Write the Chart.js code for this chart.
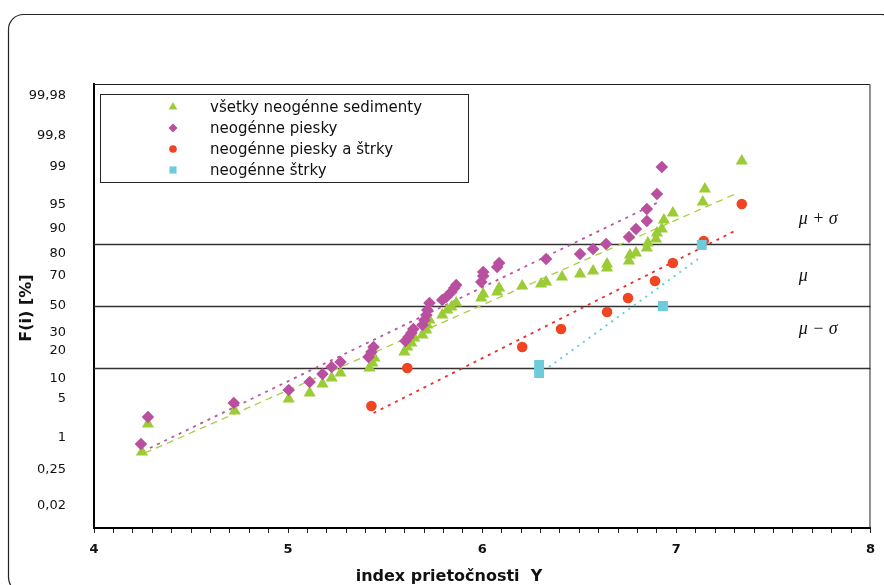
<!DOCTYPE html>
<html>
<head>
<meta charset="utf-8">
<script src="https://cdn.jsdelivr.net/npm/chart.js@4.4.1/dist/chart.umd.min.js"></script>
<style>
  html, body { margin: 0; padding: 0; background: #fff; }
</style>
</head>
<body>
<canvas id="graf" width="884" height="585"></canvas>
<script>
// index prietočnosti Y (x) a kvantil F(i) v jednotkách normálneho rozdelenia (y)
const allX = [4.247, 4.278, 4.725, 5.003, 5.111, 5.177, 5.224, 5.270, 5.419, 5.434, 5.445, 5.599,
  5.614, 5.635, 5.650, 5.692, 5.712, 5.717, 5.728, 5.794, 5.820, 5.841, 5.866, 5.995, 6.005, 6.077,
  6.087, 6.206, 6.303, 6.329, 6.411, 6.504, 6.571, 6.643, 6.643, 6.756, 6.761, 6.792, 6.848, 6.853,
  6.895, 6.900, 6.925, 6.936, 6.982, 7.136, 7.147, 7.337];
const allZ = [-2.355, -1.903, -1.694, -1.500, -1.403, -1.258, -1.161, -1.081, -1.000, -0.919, -0.839, -0.742,
  -0.661, -0.597, -0.516, -0.468, -0.387, -0.306, -0.226, -0.145, -0.065, -0.016, 0.048, 0.129, 0.194, 0.226,
  0.290, 0.323, 0.355, 0.387, 0.468, 0.516, 0.565, 0.613, 0.677, 0.726, 0.823, 0.855, 0.935, 1.016,
  1.081, 1.177, 1.242, 1.387, 1.500, 1.677, 1.887, 2.339];

const sandX = [4.242, 4.278, 4.720, 5.003, 5.111, 5.177, 5.224, 5.270, 5.414, 5.429, 5.440, 5.604,
  5.620, 5.635, 5.645, 5.692, 5.702, 5.712, 5.717, 5.728, 5.794, 5.815, 5.841, 5.856, 5.866, 5.995,
  6.005, 6.005, 6.077, 6.087, 6.329, 6.504, 6.571, 6.638, 6.756, 6.792, 6.848, 6.848, 6.900, 6.925];
const sandZ = [-2.226, -1.790, -1.565, -1.355, -1.226, -1.097, -0.984, -0.903, -0.823, -0.742, -0.661, -0.565,
  -0.500, -0.435, -0.371, -0.306, -0.226, -0.145, -0.065, 0.048, 0.097, 0.145, 0.226, 0.290, 0.339, 0.387,
  0.484, 0.548, 0.629, 0.694, 0.758, 0.839, 0.919, 1.000, 1.113, 1.242, 1.371, 1.565, 1.806, 2.242];

const sandGravelX = [5.429, 5.614, 6.206, 6.406, 6.643, 6.751, 6.890, 6.982, 7.141, 7.337];
const sandGravelZ = [-1.613, -1.000, -0.661, -0.371, -0.097, 0.129, 0.403, 0.694, 1.048, 1.645];

const gravelX = [6.293, 6.293, 6.931, 7.131];
const gravelZ = [-0.952, -1.081, 0.000, 0.984];

// trendové čiary (začiatok, koniec)
const allTrendX = [4.262, 7.316];
const allTrendZ = [-2.371, 1.823];
const sandTrendX = [4.288, 6.910];
const sandTrendZ = [-2.290, 1.677];
const sandGravelTrendX = [5.440, 7.301];
const sandGravelTrendZ = [-1.726, 1.210];
const gravelTrendX = [6.344, 7.126];
const gravelTrendZ = [-0.984, 0.790];

// popisy osi y (percentá) a ich poloha
const tickLabels = ['0,02', '0,25', '1', '5', '10', '20', '30', '50', '70', '80', '90', '95', '99', '99,8', '99,98'];
const tickZ = [-3.226, -2.645, -2.129, -1.500, -1.177, -0.726, -0.435, 0, 0.484, 0.839, 1.242, 1.629, 2.242, 2.742, 3.387];

const sigmaLevels = [1, 0, -1];
const sigmaLabels = ['\u03bc + \u03c3', '\u03bc', '\u03bc \u2212 \u03c3'];
const sigmaLabelZ = [1.40, 0.48, -0.37];

const seriesNames = ['všetky neogénne sedimenty', 'neogénne piesky', 'neogénne piesky a štrky', 'neogénne štrky'];

const toPoints = (xs, ys) => xs.map((x, i) => ({ x, y: ys[i] }));

function pointSet(label, xs, ys, color, style, radius, order) {
  return {
    label, data: toPoints(xs, ys), showLine: false,
    pointStyle: style, pointRadius: radius, pointBackgroundColor: color,
    pointBorderWidth: 0, backgroundColor: color, borderColor: color, order
  };
}

function trendSet(xs, ys, color, dash, width) {
  return {
    label: '', data: toPoints(xs, ys), showLine: true, pointRadius: 0,
    borderColor: color, borderWidth: width, borderDash: dash, order: 5
  };
}

const datasets = [
  pointSet(seriesNames[0], allX, allZ, '#9bcb35', 'triangle', 7, 4),
  pointSet(seriesNames[1], sandX, sandZ, '#b9509f', 'rectRot', 6.3, 3),
  pointSet(seriesNames[2], sandGravelX, sandGravelZ, '#ef4523', 'circle', 5.3, 2),
  pointSet(seriesNames[3], gravelX, gravelZ, '#6cccdc', 'rect', 7, 1),
  trendSet(allTrendX, allTrendZ, '#a6cf3f', [7, 5], 1.3),
  trendSet(sandTrendX, sandTrendZ, '#bb55a3', [3, 5], 1.8),
  trendSet(sandGravelTrendX, sandGravelTrendZ, '#ee2a2a', [3, 5], 1.8),
  trendSet(gravelTrendX, gravelTrendZ, '#66ccdd', [2, 5], 2)
];

// rámček, čiary mu/sigma, legenda a popisy
const decor = {
  id: 'decor',
  beforeDraw(chart) {
    const ctx = chart.ctx;
    ctx.save();
    ctx.fillStyle = '#fff';
    ctx.fillRect(0, 0, chart.width, chart.height);
    ctx.strokeStyle = '#222';
    ctx.lineWidth = 1.2;
    ctx.beginPath();
    ctx.roundRect(8.5, 14.5, 888, 578, 15);
    ctx.stroke();
    ctx.restore();
  },
  beforeDatasetsDraw(chart) {
    const { ctx, chartArea: a, scales: { y } } = chart;
    ctx.save();
    ctx.strokeStyle = '#333';
    ctx.lineWidth = 1.4;
    sigmaLevels.forEach(v => {
      const py = Math.round(y.getPixelForValue(v)) + 0.5;
      ctx.beginPath();
      ctx.moveTo(a.left, py);
      ctx.lineTo(a.right, py);
      ctx.stroke();
    });
    ctx.strokeStyle = '#222';
    ctx.lineWidth = 1;
    ctx.beginPath();
    ctx.moveTo(a.left, a.top + 0.5);
    ctx.lineTo(a.right - 0.5, a.top + 0.5);
    ctx.lineTo(a.right - 0.5, a.bottom);
    ctx.stroke();
    ctx.restore();
  },
  afterDraw(chart) {
    const { ctx, scales: { x, y } } = chart;
    ctx.save();

    // legenda
    ctx.fillStyle = '#fff';
    ctx.fillRect(100, 94, 369, 88);
    ctx.strokeStyle = '#222';
    ctx.lineWidth = 1;
    ctx.strokeRect(100.5, 94.5, 368, 88);
    ctx.font = '15px "DejaVu Sans"';
    ctx.textBaseline = 'middle';
    ctx.textAlign = 'left';
    for (let i = 0; i < 4; i++) {
      const ds = chart.data.datasets[i];
      const ly = 107 + i * 21;
      ctx.fillStyle = ds.pointBackgroundColor;
      Chart.helpers.drawPoint(ctx, { pointStyle: ds.pointStyle, radius: ds.pointRadius * 0.72, borderWidth: 0, rotation: 0 }, 173, ly);
      ctx.fillStyle = '#111';
      ctx.fillText(ds.label, 210, ly + 1);
    }

    // mu a sigma
    ctx.font = 'italic 18px "Liberation Serif"';
    ctx.fillStyle = '#111';
    sigmaLabels.forEach((t, i) => {
      ctx.fillText(t, x.getPixelForValue(7.63), y.getPixelForValue(sigmaLabelZ[i]));
    });

    // názvy osí
    ctx.font = 'bold 16px "DejaVu Sans"';
    ctx.textAlign = 'center';
    ctx.fillText('index prietočnosti  Y', 449, 577);
    ctx.translate(27, 308);
    ctx.rotate(-Math.PI / 2);
    ctx.fillText('F(i) [%]', 0, 0);
    ctx.restore();
  }
};

new Chart(document.getElementById('graf'), {
  type: 'scatter',
  data: { datasets },
  options: {
    responsive: false,
    animation: false,
    layout: { padding: { left: 0, right: 10, top: 84, bottom: 0 } },
    plugins: { legend: { display: false }, tooltip: { enabled: false } },
    scales: {
      x: {
        type: 'linear', min: 4, max: 8,
        afterFit: s => { s.height = 57; },
        ticks: {
          stepSize: 0.1, autoSkip: false, maxRotation: 0, padding: 9,
          color: '#111', font: { family: 'DejaVu Sans', size: 13, weight: 'bold' },
          callback: v => Math.abs(v - Math.round(v)) < 1e-6 ? String(Math.round(v)) : ''
        },
        grid: { drawOnChartArea: false, drawTicks: true, tickLength: 5, color: '#222' },
        border: { display: true, color: '#000', width: 2 }
      },
      y: {
        type: 'linear', min: -3.58, max: 3.58,
        afterFit: s => { s.width = 94; },
        afterBuildTicks: s => { s.ticks = tickZ.map(v => ({ value: v })); },
        ticks: {
          autoSkip: false, padding: 28, color: '#111',
          font: { family: 'DejaVu Sans', size: 13 },
          callback: (v, i) => tickLabels[i]
        },
        grid: { display: false, drawTicks: false },
        border: { display: true, color: '#000', width: 2 }
      }
    }
  },
  plugins: [decor]
});
</script>
</body>
</html>
